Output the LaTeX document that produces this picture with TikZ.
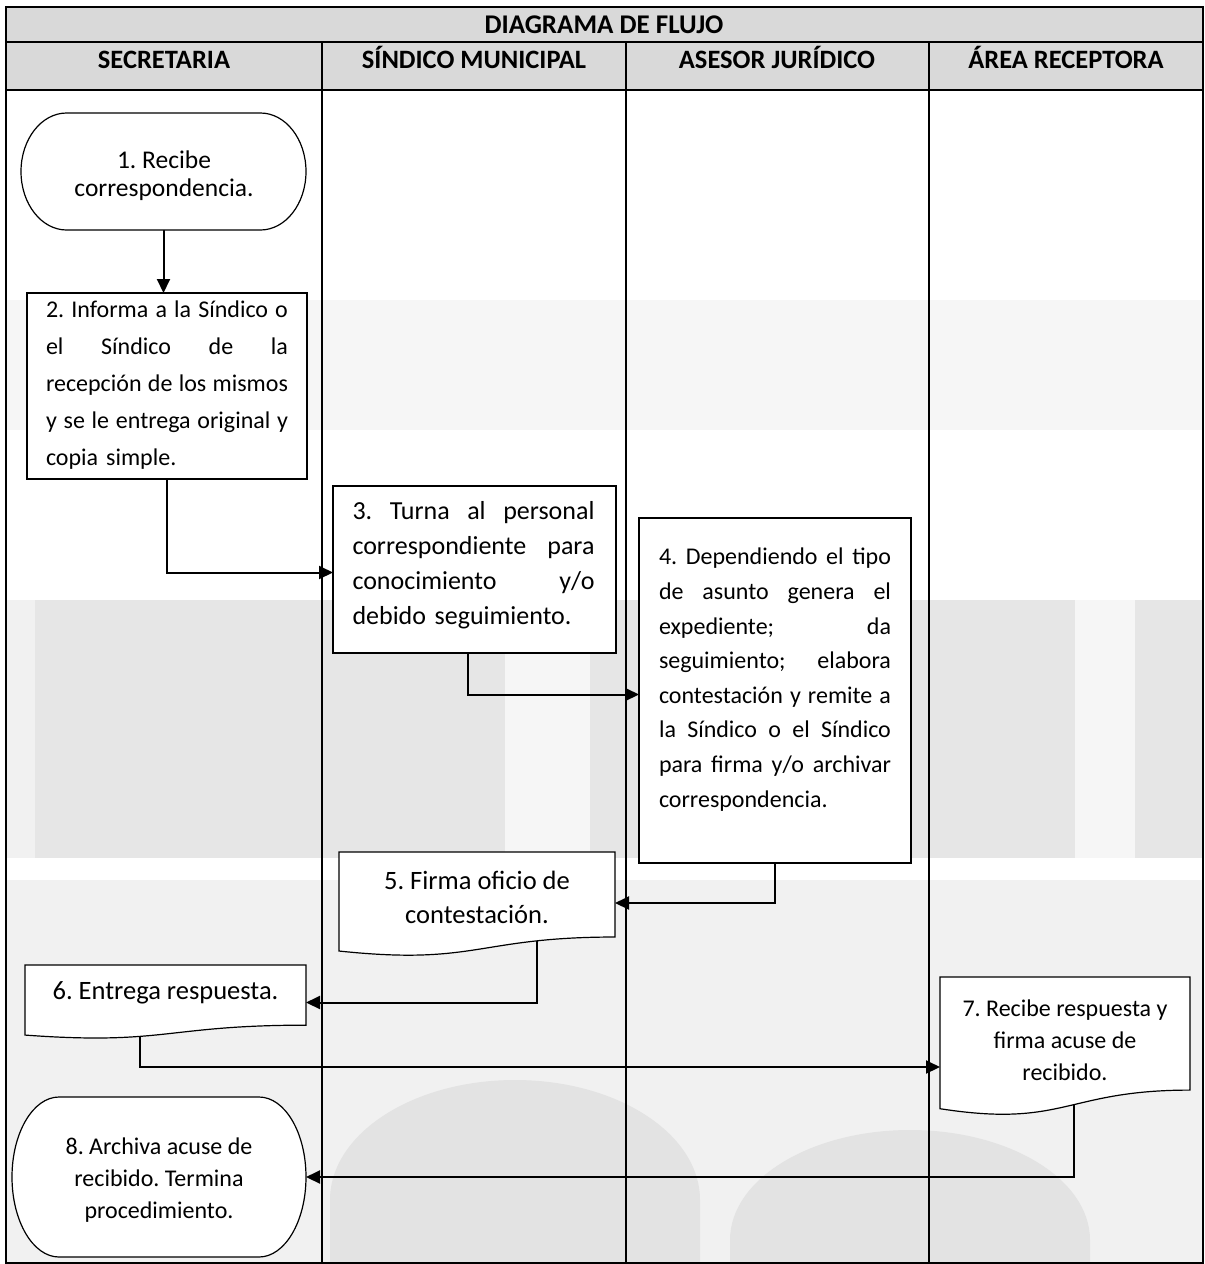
\documentclass[tikz,border=0pt]{standalone}
\usepackage{fontspec}
\setmainfont{Carlito}
\usetikzlibrary{arrows.meta,calc,backgrounds}
\frenchspacing
\definecolor{hdrgray}{HTML}{D9D9D9}
\definecolor{wmband}{HTML}{E6E6E6}
\definecolor{wmlight}{HTML}{F1F1F1}
\definecolor{wmpale}{HTML}{F6F6F6}
\definecolor{wmarch}{HTML}{E3E3E3}
% justified line: spaces stretch to fill the line
\newcommand\jl[1]{\strut\hbox to\hsize{\spaceskip=0.23em plus 1fil\relax #1}}
% rectangle process box: name x1 y1 x2 y2
\newcommand\rectbox[5]{%
  \node[shp, anchor=north west, minimum width={#4-#2}, minimum height={#5-#3}] (#1) at (#2,#3) {};}
% document box: name x y w h
\newcommand\docbox[5]{%
  \path[shp] (#2,#3) -- ({#2+#4},#3) -- ({#2+#4},{#3+0.802*#5})
    .. controls ({#2+0.5*#4},{#3+0.802*#5}) and ({#2+0.5*#4},{#3+1.072*#5}) .. (#2,{#3+0.934*#5}) -- cycle;
  \node[anchorbox, anchor=north west, minimum width=#4, minimum height=#5] (#1) at (#2,#3) {};}
% terminal box: name x1 y1 x2 y2
\newcommand\termbox[5]{%
  \pgfmathsetmacro\tmrx{0.16*(#4-#2)}\pgfmathsetmacro\tmry{(#5-#3)/2}%
  \path[shp] ({#2+\tmrx},#3) -- ({#4-\tmrx},#3)
    arc[start angle=90,end angle=-90,x radius=\tmrx pt,y radius=\tmry pt]
    -- ({#2+\tmrx},#5)
    arc[start angle=270,end angle=90,x radius=\tmrx pt,y radius=\tmry pt] -- cycle;
  \node[anchorbox, anchor=north west, minimum width={#4-#2}, minimum height={#5-#3}] (#1) at (#2,#3) {};}
\begin{document}
\begin{tikzpicture}[x=1pt,y=-1pt,
  tablerule/.style={line width=2.4pt},
  shp/.style={draw=black,fill=white,line width=1.2pt,inner sep=0pt,outer sep=0pt},
  anchorbox/.style={inner sep=0pt,outer sep=0pt},
  arr/.style={line width=2pt,-{Triangle[length=14pt,width=13pt]}},
  hdr/.style={font=\fontsize{26.5}{30}\selectfont\bfseries,inner sep=0pt,anchor=base},
  ctxt/.style={align=center,inner sep=0pt},
  jtxt/.style={align=left,inner sep=0pt}]
\useasboundingbox (0,0) rectangle (1205,1264);

% ---------- shapes ----------
\termbox{b1}{21}{113}{306}{230}
\rectbox{b2}{27}{293}{307}{479}
\rectbox{b3}{333}{486}{616}{653}
\rectbox{b4}{639}{518}{911}{863}
\docbox{b5}{339}{852}{276}{106}
\docbox{b6}{25}{965}{281}{75}
\docbox{b7}{940}{977}{250}{141}
\termbox{b8}{12}{1097}{306}{1257}

\begin{pgfonlayer}{background}
  \fill[white] (0,0) rectangle (1205,1264);
  % faint watermark of the page background
  \fill[wmpale] (6,300) rectangle (1203,430);
  \fill[wmband] (6,600) rectangle (1203,858);
  \fill[wmlight] (6,600) rectangle (35,858);
  \fill[wmpale] (505,600) rectangle (590,858);
  \fill[wmpale] (1075,600) rectangle (1135,858);
  \fill[wmlight] (6,880) rectangle (1203,1263);
  \fill[wmarch] (330,1263) -- (330,1200) arc[start angle=180,end angle=0,x radius=185pt,y radius=120pt] -- (700,1263) -- cycle;
  \fill[wmarch] (730,1263) -- (730,1240) arc[start angle=180,end angle=0,x radius=180pt,y radius=110pt] -- (1090,1263) -- cycle;
  \fill[hdrgray] (6,7) rectangle (1203,90);
  \draw[tablerule] (6,42) -- (1203,42);
  \draw[tablerule] (6,90) -- (1203,90);
  \draw[tablerule] (322,42) -- (322,1263);
  \draw[tablerule] (626,42) -- (626,1263);
  \draw[tablerule] (929,42) -- (929,1263);
  \draw[tablerule] (6,7) rectangle (1203,1263);
  % ---------- connectors ----------
  \draw[arr] (b1.south) -- (b1.south |- b2.north);
  \draw[arr] (b2.south) |- ([yshift=-3pt]b3.west);
  \draw[arr] ([xshift=-7pt]b3.south) |- ([yshift=-4pt]b4.west);
  \draw[arr] (b4.south) |- ([yshift=2pt]b5.east);
  \draw[arr] ([xshift=60pt]b5.center) |- (b6.east);
  \draw[arr] ([xshift=-26pt]b6.center) |- ([yshift=-19.5pt]b7.west);
  \draw[arr] ([xshift=9pt]b7.center) |- (b8.east);
\end{pgfonlayer}

% ---------- header ----------
\node[hdr, font=\fontsize{27}{30}\selectfont\bfseries] (title) at (604,33) {DIAGRAMA DE FLUJO};
\node[hdr] (h1) at (164,68) {SECRETARIA};
\node[hdr] (h2) at (474,68) {SÍNDICO MUNICIPAL};
\node[hdr] (h3) at (777,68) {ASESOR JURÍDICO};
\node[hdr] (h4) at (1066,68) {ÁREA RECEPTORA};

% ---------- texts ----------
\node[ctxt, font=\fontsize{25.5}{28}\selectfont] (t1) at (164,177) {\strut 1. Recibe\\correspondencia.\strut};
\node[jtxt, font=\fontsize{24}{37}\selectfont, text width=242] (t2) at (167,384)
  {\jl{2. Informa a la Síndico o}\\\jl{el Síndico de la}\\\jl{recepción de los mismos}\\\jl{y se le entrega original y}\\\strut copia simple.\strut};
\node[jtxt, font=\fontsize{26}{35}\selectfont, text width=242] (t3) at (473.5,565)
  {\jl{3. Turna al personal}\\\jl{correspondiente para}\\\jl{conocimiento y/o}\\\strut debido seguimiento.\strut};
\node[jtxt, font=\fontsize{24}{34.6}\selectfont, text width=232] (t4) at (775,679)
  {\jl{4. Dependiendo el tipo}\\\jl{de asunto genera el}\\\jl{expediente; da}\\\jl{seguimiento; elabora}\\\jl{contestación y remite a}\\\jl{la Síndico o el Síndico}\\\jl{para firma y/o archivar}\\\strut correspondencia.\strut};
\node[ctxt, font=\fontsize{26.5}{34}\selectfont] (t5) at (477,900) {\strut 5. Firma oficio de\\contestación.\strut};
\node[ctxt, font=\fontsize{26.5}{33}\selectfont] (t6) at (165.5,993) {\strut 6. Entrega respuesta.\strut};
\node[ctxt, font=\fontsize{24}{32}\selectfont] (t7) at (1065,1042) {\strut 7. Recibe respuesta y\\firma acuse de\\recibido.\strut};
\node[ctxt, font=\fontsize{24}{32}\selectfont] (t8) at (159,1180) {\strut 8. Archiva acuse de\\recibido. Termina\\procedimiento.\strut};
\end{tikzpicture}
\end{document}
